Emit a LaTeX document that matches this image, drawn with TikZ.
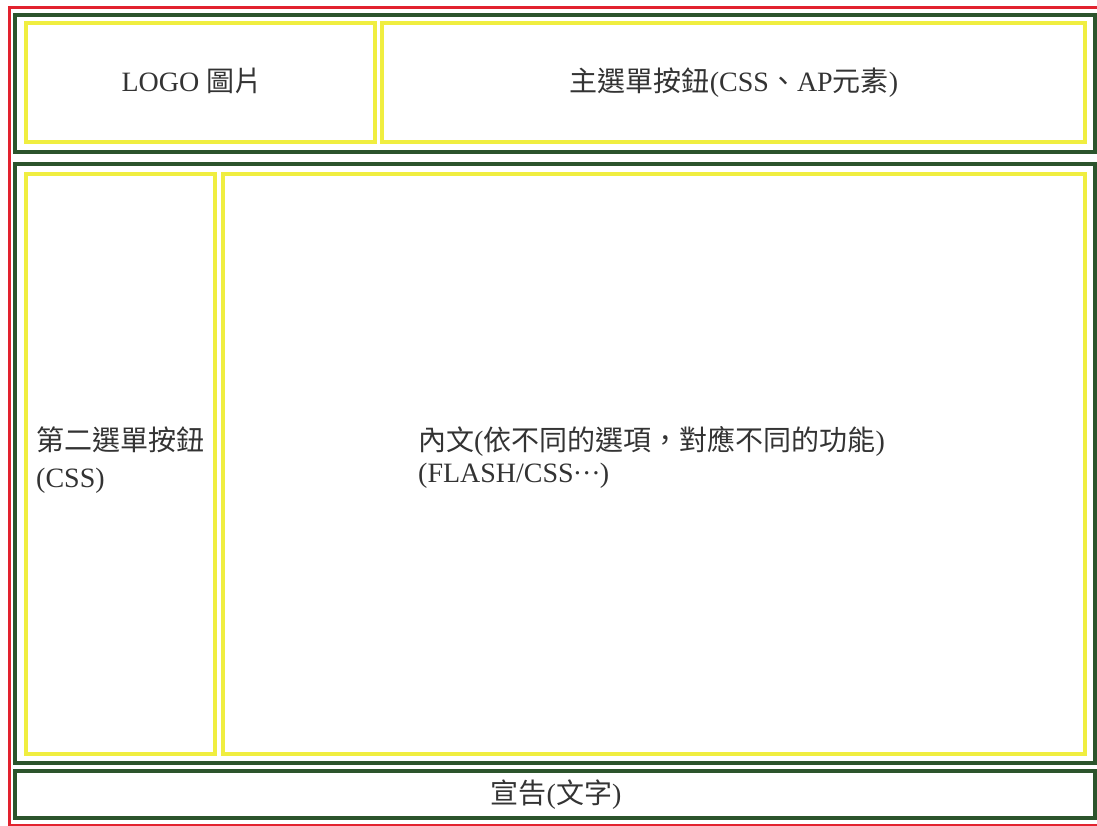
\documentclass[tikz,border=0pt]{standalone}
\usepackage{fontspec}
\setmainfont{Liberation Serif}
\newfontfamily\cjk{Noto Sans CJK TC}
\newcommand{\zhtext}[1]{{\cjk #1}}
\newcommand{\middots}{\makebox[26pt][c]{\hspace{2pt}·\hfill·\hfill·\hspace{2pt}}}

\definecolor{frameRed}{RGB}{226,34,46}
\definecolor{regionGreen}{RGB}{44,84,44}
\definecolor{blockYellow}{RGB}{240,238,64}

\begin{document}
\begin{tikzpicture}[
        x=1pt, y=-1pt,
        % 定義通用樣式
        outer frame/.style={draw=frameRed, line width=3pt}, % 外框
        region/.style={draw=regionGreen, line width=3.5pt}, % 區塊框
        block/.style={draw=blockYellow, line width=3.5pt}, % 內容框
        label text/.style={font=\fontsize{28}{37}\selectfont, text=black!80, inner sep=0pt} % 文字
    ]

        % 0. 圖面範圍
        \clip (0,0) rectangle (1097,826);
        \fill[white] (0,0) rectangle (1097,826);

        % 1. 最外層紅框 (右邊超出圖面)
        \draw[outer frame] (9,8) rectangle (1104,825);

        % 2. 三個綠色區塊
        \draw[region] (15,15) rectangle (1095,152);   % 上方
        \draw[region] (15,164) rectangle (1095,763);  % 中間
        \draw[region] (15,771) rectangle (1095,818);  % 下方

        % 3. 黃色內容框
        \draw[block] (26,23) rectangle (375,142);     % LOGO
        \draw[block] (382,23) rectangle (1085,142);   % 主選單
        \draw[block] (26,174) rectangle (215,754);    % 第二選單
        \draw[block] (223,174) rectangle (1085,754);  % 內文

        % 4. 文字
        \node[label text] (logo) at (192,81) {LOGO \zhtext{圖片}};
        \node[label text] (mainmenu) at (734,83) {\zhtext{主選單按鈕}(CSS\zhtext{、}AP\zhtext{元素})};
        \node[label text, anchor=west, align=left] (submenu) at (36,460) {\zhtext{第二選單按鈕}\\(CSS)};
        \node[label text, anchor=west, align=left, font=\fontsize{28}{32}\selectfont] (content) at (418,457)
            {\zhtext{內文}(\zhtext{依不同的選項，對應不同的功能})\\(FLASH/CSS\middots)};
        \node[label text] (notice) at (556,795) {\zhtext{宣告}(\zhtext{文字})};

    \end{tikzpicture}
\end{document}
